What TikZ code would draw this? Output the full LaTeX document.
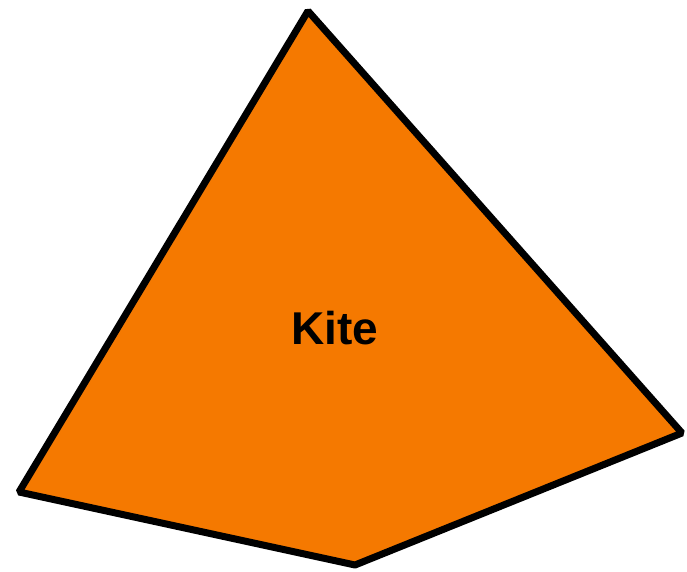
\documentclass[tikz,border=0pt]{standalone}
\usepackage{fontspec}
\setmainfont{Liberation Sans}
\usepackage{xcolor}
\definecolor{kiteorange}{RGB}{245,121,0}

\begin{document}
\begin{tikzpicture}[x=1pt,y=-1pt]
    \useasboundingbox (0,0) rectangle (687,571);
    % Kite vertices: top, right, bottom, left
    \coordinate (top) at (308,11);
    \coordinate (right) at (682,433);
    \coordinate (bottom) at (355,565);
    \coordinate (left) at (19,492);
    % Fill and outline
    \filldraw[fill=kiteorange, draw=black, line width=7pt, line join=bevel]
      (top)--(right)--(bottom)--(left)--cycle;
    % Label
    \node[font=\bfseries\fontsize{46}{50}\selectfont] (kite) at (335,328) {Kite};
\end{tikzpicture}
\end{document}
